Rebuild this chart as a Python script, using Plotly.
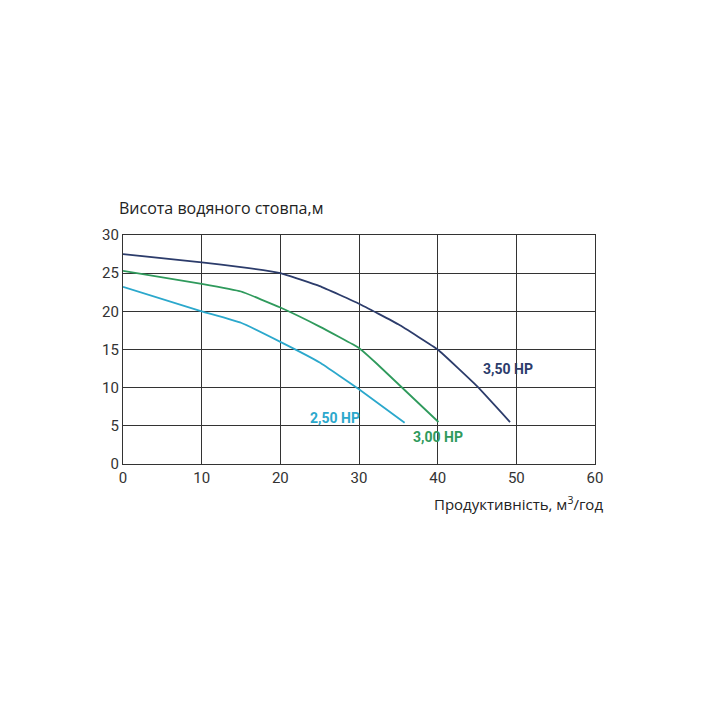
import plotly.graph_objects as go

# Data
x_350 = [0, 10, 15, 20, 25, 30, 35, 40, 45, 49.2]
y_350 = [27.5, 26.4, 25.8, 25.0, 23.3, 21.0, 18.3, 15.0, 10.2, 5.5]
x_300 = [0, 10, 15, 20, 25, 30, 32.2, 40.1]
y_300 = [25.3, 23.6, 22.6, 20.5, 18.0, 15.2, 13.2, 5.5]
x_250 = [0, 10, 15, 20, 25, 30, 35.8]
y_250 = [23.2, 20.0, 18.5, 16.0, 13.3, 9.8, 5.4]

labels = ["3,50 HP", "3,00 HP", "2,50 HP"]
label_x = [49.0, 40.0, 27.0]
label_y = [12.4, 3.5, 6.0]
colors = ["#2c3c6b", "#2f9a5c", "#2ba8cc"]

x_ticks = [0, 10, 20, 30, 40, 50, 60]
y_ticks = [0, 5, 10, 15, 20, 25, 30]

fig = go.Figure()
for xs, ys, c in [(x_350, y_350, colors[0]), (x_300, y_300, colors[1]), (x_250, y_250, colors[2])]:
    fig.add_trace(go.Scatter(x=xs, y=ys, mode="lines", line=dict(color=c, width=1.8, shape="spline", smoothing=0.3),
                             showlegend=False, hoverinfo="skip"))

for t, lx, ly, c in zip(labels, label_x, label_y, colors):
    fig.add_annotation(x=lx, y=ly, text="<b>" + t + "</b>", showarrow=False,
                       font=dict(family="Roboto", size=14, color=c), xanchor="center", yanchor="middle")

fig.add_annotation(xref="paper", yref="paper", x=-0.012, y=1.06, xanchor="left", yanchor="bottom",
                   text="Висота водяного стовпа,м", showarrow=False,
                   font=dict(family="Open Sans", size=16, color="#222222"))
fig.add_annotation(xref="paper", yref="paper", x=1.022, y=-0.12, xanchor="right", yanchor="top",
                   text="Продуктивність, м<sup>3</sup>/год", showarrow=False,
                   font=dict(family="Open Sans", size=15, color="#222222"))

axis_common = dict(showgrid=True, gridcolor="#333333", gridwidth=1.3, showline=True, linecolor="#333333",
                   linewidth=1.3, mirror=True, zeroline=False, ticks="",
                   tickfont=dict(family="Roboto", size=15, color="#333333"))
fig.update_xaxes(range=[0, 60], tickvals=x_ticks, **axis_common)
fig.update_yaxes(range=[0, 30], tickvals=y_ticks, **axis_common)

fig.update_layout(width=718, height=718, margin=dict(l=123, r=123, t=235, b=254),
                  plot_bgcolor="white", paper_bgcolor="white")

fig.write_html("out.html")
